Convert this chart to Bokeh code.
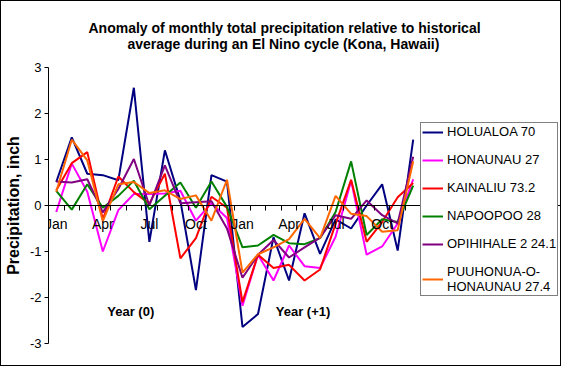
from bokeh.plotting import figure
from bokeh.models import FixedTicker, Legend, LegendItem, Label, Range1d
from bokeh.embed import file_html
from bokeh.resources import INLINE

# ---------------- data ----------------
months = ["Jan", "Feb", "Mar", "Apr", "May", "Jun",
          "Jul", "Aug", "Sep", "Oct", "Nov", "Dec"] * 2
shown_months = ["Jan", "Apr", "Jul", "Oct"]
year_labels = ["Year (0)", "Year (+1)"]
y_ticks = [-3, -2, -1, 0, 1, 2, 3]
title_lines = ["Anomaly of monthly total precipitation relative to historical",
               "average during an El Nino cycle (Kona, Hawaii)"]

series_names = ["HOLUALOA 70", "HONAUNAU 27", "KAINALIU 73.2", "NAPOOPOO 28",
                "OPIHIHALE 2 24.1", "PUUHONUA-O-\nHONAUNAU 27.4"]

holualoa = [0.51, 1.48, 0.69, 0.66, 0.55, 2.56, -0.79, 1.20, 0.10, -1.84, 0.66, 0.52,
            -2.64, -2.36, -0.69, -1.63, -0.17, -1.05, -0.30, -0.50, 0.00, 0.46, -0.98, 1.43]
honaunau = [-0.14, 0.91, 0.30, -1.00, -0.10, 0.25, 0.25, 0.26, 0.32, -0.33, 0.05, -0.27,
            -2.18, -1.07, -1.63, -0.87, -1.32, -1.36, -0.68, 0.54, -1.07, -0.89, -0.39, 0.57]
kainaliu = [0.33, 0.92, 1.16, -0.30, 0.63, 0.29, 0.04, 0.69, -1.15, -0.71, 0.19, -0.05,
            -2.10, -1.07, -1.36, -1.29, -1.63, -1.39, -0.40, 0.56, -0.79, -0.36, 0.18, 0.49]
napoopoo = [0.32, -0.09, 0.46, -0.05, 0.21, 0.54, -0.08, 0.21, 0.50, -0.05, 0.52, -0.03,
            -0.91, -0.87, -0.64, -0.82, -0.84, -0.71, -0.14, 0.96, -0.64, -0.30, -0.36, 0.43]
opihihale = [0.52, 0.50, 0.57, -0.15, 0.36, 1.01, 0.00, 0.87, 0.05, 0.07, 0.09, -0.50,
             -1.57, -1.07, -0.75, -1.13, -0.91, -0.70, -0.21, -0.29, 0.11, -0.21, -0.39, 1.06]
puuhonua = [0.30, 1.43, 0.98, -0.34, 0.46, 0.51, 0.27, 0.33, 0.14, 0.22, -0.33, 0.56,
            -1.46, -1.06, -0.91, -0.73, -0.29, -0.71, 0.21, -0.18, -0.23, -0.57, -0.54, 0.96]

series_values = [holualoa, honaunau, kainaliu, napoopoo, opihihale, puuhonua]
colors = ["#000080", "#FF00FF", "#FF0000", "#008000", "#800080", "#FF6600"]

FONT = "Liberation Sans"
x = list(range(len(months)))

# layout (pixels); a 1px CSS border around the figure brings it to 561x366
W, H = 559, 364
LEFT, TOP, BOTTOM = 47, 66, 24
DATA_PX = 371                     # width taken by the 24 month slots
FRAME_PX = W - LEFT               # frame also reaches under the legend
n = len(months)
x_end = -0.5 + n * FRAME_PX / DATA_PX

p = figure(width=W, height=H, output_backend="svg", toolbar_location=None,
           x_range=Range1d(-0.5, x_end), y_range=Range1d(-3, 3),
           min_border_left=LEFT, min_border_right=0, min_border_top=TOP,
           min_border_bottom=BOTTOM)
p.grid.visible = False
p.outline_line_color = None
p.background_fill_color = "white"
p.border_fill_color = "white"
p.styles = {"border": "1px solid black", "box-sizing": "content-box"}

# title: two lines; the second is centred under the first with no-break spaces
NBSP = "\u00a0"
p.title.text = title_lines[0] + "\n" + NBSP * 10 + title_lines[1]
p.title.align = "left"
p.title.offset = 40
p.title.text_font = FONT
p.title.text_font_size = "14px"
p.title.text_font_style = "bold"
p.title.text_color = "black"
p.title.standoff = 32

# x axis crossing at y = 0
label_ticks = [i for i, m in enumerate(months) if m in shown_months]
p.xaxis.fixed_location = 0
p.xaxis.ticker = FixedTicker(ticks=label_ticks,
                             minor_ticks=[i - 0.5 for i in range(n + 1)])
p.xaxis.major_label_overrides = {i: months[i] for i in label_ticks}
p.xaxis.major_tick_in = 0
p.xaxis.major_tick_out = 0
p.xaxis.minor_tick_in = 0
p.xaxis.minor_tick_out = 5
p.xaxis.axis_line_color = "black"
p.xaxis.minor_tick_line_color = "black"
p.xaxis.major_label_standoff = 5
p.xaxis.major_label_text_font = FONT
p.xaxis.major_label_text_font_size = "14px"
p.xaxis.major_label_text_color = "black"

# y axis
p.yaxis.ticker = FixedTicker(ticks=y_ticks, minor_ticks=[])
p.yaxis.major_label_overrides = {t: str(t) for t in y_ticks}
p.yaxis.major_tick_in = 0
p.yaxis.major_tick_out = 4
p.yaxis.minor_tick_out = 0
p.yaxis.axis_line_color = "black"
p.yaxis.major_tick_line_color = "black"
p.yaxis.major_label_standoff = 3
p.yaxis.major_label_text_font = FONT
p.yaxis.major_label_text_font_size = "13px"
p.yaxis.major_label_text_color = "black"
p.yaxis.axis_label = "Precipitation, inch"
p.yaxis.axis_label_text_font = FONT
p.yaxis.axis_label_text_font_size = "16px"
p.yaxis.axis_label_text_font_style = "bold"
p.yaxis.axis_label_text_color = "black"
p.yaxis.axis_label_standoff = 5

# series
items = []
for name, vals, col in zip(series_names, series_values, colors):
    r = p.line(x, vals, line_color=col, line_width=2)
    items.append(LegendItem(label=name, renderers=[r]))

legend = Legend(items=items, location=(DATA_PX + 1, 47), margin=0, padding=1,
                spacing=13, label_height=14, glyph_height=14, glyph_width=21,
                label_standoff=4, border_line_color="black", border_line_width=1,
                background_fill_color="white", background_fill_alpha=1,
                label_text_font=FONT, label_text_font_size="13px",
                label_text_color="black")
p.add_layout(legend)

# year captions
year_label_x = [4.8, 15.9]
for txt, xc in zip(year_labels, year_label_x):
    p.add_layout(Label(x=xc, y=-2.31, text=txt, text_align="center",
                       text_baseline="middle", text_font=FONT,
                       text_font_size="13px", text_font_style="bold",
                       text_color="black"))

open("out.html", "w").write(file_html(p, INLINE))
